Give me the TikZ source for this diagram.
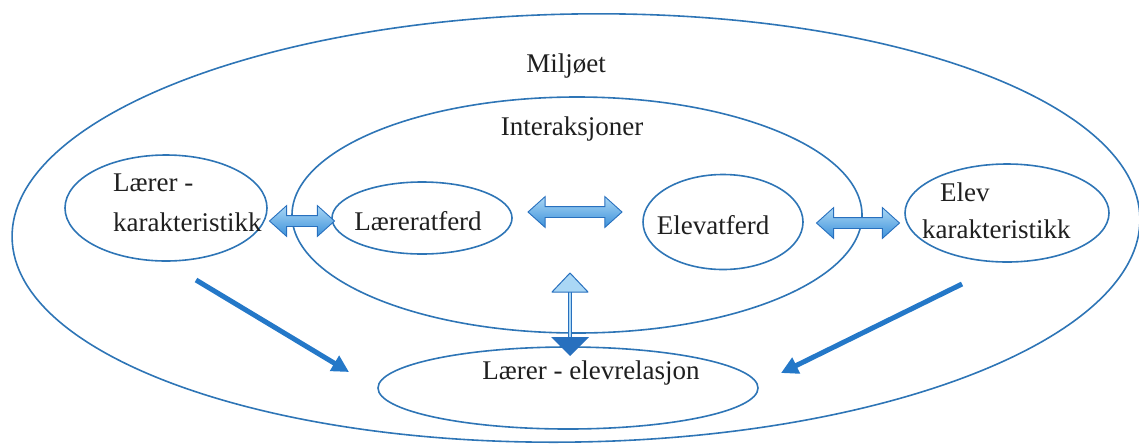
\documentclass[tikz,border=0pt]{standalone}
\usepackage{fontspec}
\setmainfont{Liberation Serif}
\usetikzlibrary{shapes.geometric,shapes.arrows,arrows.meta,calc}
\definecolor{eline}{RGB}{46,117,182}
\definecolor{arrowblue}{RGB}{36,120,200}
\definecolor{lightarrow}{RGB}{170,215,245}
\definecolor{midarrow}{RGB}{60,145,218}
\definecolor{darkarrow}{RGB}{40,112,190}
\begin{document}
\begin{tikzpicture}[x=1pt,y=-1pt,
  ell/.style={draw=eline, line width=1.6pt, ellipse, inner sep=0pt},
  lbl/.style={font=\fontsize{27}{32}\selectfont, inner sep=0pt, text=black!88},
  dblarrow/.style={double arrow, draw=darkarrow, line width=0.9pt,
    top color=lightarrow, bottom color=midarrow, inner xsep=0pt, inner ysep=5pt,
    minimum width=30pt, double arrow head extend=10pt, double arrow tip angle=84},
  diag/.style={draw=arrowblue, line width=5pt, -{Triangle[length=17pt,width=17pt]}}]
\useasboundingbox (0,0) rectangle (1139,445);
% outer and inner ellipses
\draw[eline, line width=1.6pt, rotate around={1:(576,228)}] (576,228) ellipse [x radius=564, y radius=214];
\node[ell, minimum width=570pt, minimum height=236pt] (inter) at (577,215) {};
\node[lbl] (miljo) at (566,66) {Miljøet};
\node[lbl] (intert) at (572,129) {Interaksjoner};
% small ellipses
\node[ell, minimum width=202pt, minimum height=106pt] (lk) at (166,208) {};
\node[lbl, anchor=west] (lk1) at (113,183) {Lærer -};
\node[lbl, anchor=west] (lk2) at (113,222) {karakteristikk};
\node[ell, minimum width=180pt, minimum height=72pt] (la) at (422,218) {};
\node[lbl] (lat) at (418,221) {Læreratferd};
\node[ell, minimum width=160pt, minimum height=95pt] (ea) at (723,222) {};
\node[lbl] (eat) at (713,225) {Elevatferd};
\node[ell, minimum width=204pt, minimum height=98pt] (ek) at (1007,213) {};
\node[lbl, anchor=west] (ek1) at (940,192) {Elev};
\node[lbl, anchor=west] (ek2) at (922,229) {karakteristikk};
\node[ell, minimum width=380pt, minimum height=82pt] (rel) at (568,388) {};
\node[lbl] (relt) at (591,373) {Lærer - elevrelasjon};
% block double arrows
\node[dblarrow, minimum height=65pt] (a1) at (302,221) {};
\node[dblarrow, minimum height=94pt] (a2) at (575,212) {};
\node[dblarrow, minimum height=83pt] (a3) at (858,223) {};
% vertical arrow between interactions and relation
\coordinate (vtop) at (570,273);
\coordinate (vbot) at (570,356);
\draw[darkarrow, line width=4.5pt] ($(vtop)+(0,18)$) -- ($(vbot)+(0,-18)$);
\draw[lightarrow, line width=1.8pt] ($(vtop)+(0,18)$) -- ($(vbot)+(0,-18)$);
\filldraw[draw=darkarrow, fill=lightarrow, line width=1pt, line join=round]
  (vtop) -- ($(vtop)+(18,19)$) -- ($(vtop)+(-18,19)$) -- cycle;
\fill[darkarrow] (vbot) -- ($(vbot)+(19,-19)$) -- ($(vbot)+(-19,-19)$) -- cycle;
% diagonal arrows
\coordinate (dl1) at (196,280);
\coordinate (dl2) at (349,372);
\coordinate (dr1) at (962,284);
\coordinate (dr2) at (781,373);
\draw[diag] (dl1) -- (dl2);
\draw[diag] (dr1) -- (dr2);
\end{tikzpicture}
\end{document}
